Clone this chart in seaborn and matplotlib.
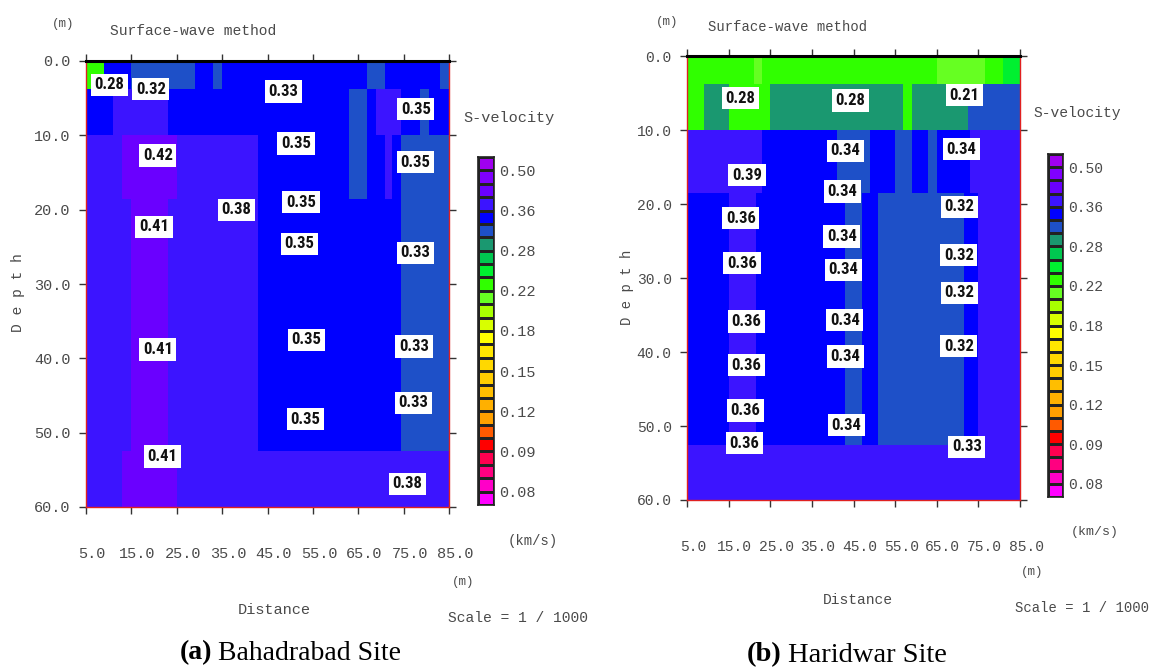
import numpy as np
import matplotlib
matplotlib.use("Agg")
import matplotlib.pyplot as plt
from matplotlib import font_manager
from matplotlib.colors import ListedColormap, BoundaryNorm
from matplotlib.transforms import ScaledTranslation
import seaborn as sns

sns.set_theme(style="white")
plt.rcParams['font.family'] = ['Liberation Mono', 'DejaVu Sans Mono']

W, H = 1151, 669

# S-velocity colour classes (km/s), bottom to top
levels = [0.070, 0.080, 0.083, 0.087, 0.090, 0.100, 0.110, 0.120, 0.130, 0.140,
          0.150, 0.160, 0.170, 0.180, 0.195, 0.210, 0.220, 0.240, 0.260, 0.280,
          0.310, 0.335, 0.360, 0.400, 0.450, 0.500, 0.550]
colors = ["#ff00ff", "#ff00c8", "#ff0080", "#ff0050", "#ff0000", "#ff5a00",
          "#ffa000", "#ffb000", "#ffbe00", "#ffcc00", "#ffd800", "#ffe600",
          "#ffff00", "#d8ff00", "#a8ff00", "#66ff22", "#30ff00", "#00f030",
          "#00c850", "#1a9870", "#1e50c8", "#0000ff", "#3c14ff", "#6a00ff",
          "#8000ff", "#a000f0"]
cbar_ticks = [0.50, 0.36, 0.28, 0.22, 0.18, 0.15, 0.12, 0.09, 0.08]

dist_ticks = [5, 15, 25, 35, 45, 55, 65, 75, 85]
depth_ticks = [0, 10, 20, 30, 40, 50, 60]

# layers: (top depth, bottom depth, [(x from, x to, velocity), ...])
bahadrabad_layers = [
    (0, 3.75, [(5, 9, 0.23), (9, 15, 0.35), (15, 29, 0.32), (29, 33, 0.35),
               (33, 35, 0.32), (35, 67, 0.35), (67, 71, 0.32), (71, 83, 0.35),
               (83, 85, 0.32)]),
    (3.75, 10, [(5, 11, 0.35), (11, 23, 0.38), (23, 63, 0.35), (63, 67, 0.32),
                (67, 69, 0.35), (69, 74.5, 0.38), (74.5, 78.5, 0.35),
                (78.5, 80.5, 0.32), (80.5, 85, 0.35)]),
    (10, 18.5, [(5, 13, 0.38), (13, 25, 0.42), (25, 43, 0.38), (43, 63, 0.35),
                (63, 67, 0.32), (67, 71, 0.35), (71, 72.5, 0.38),
                (72.5, 74.5, 0.35), (74.5, 85, 0.32)]),
    (18.5, 52.5, [(5, 15, 0.38), (15, 23, 0.42), (23, 43, 0.38), (43, 74.5, 0.35),
                  (74.5, 85, 0.32)]),
    (52.5, 60, [(5, 13, 0.38), (13, 25, 0.42), (25, 85, 0.38)]),
]
bahadrabad_labels = [
    (10.2, 3.2, "0.28"), (19.3, 3.8, "0.32"), (48.5, 4.1, "0.33"), (77.7, 6.5, "0.35"),
    (20.8, 12.7, "0.42"), (51.3, 11.1, "0.35"), (77.6, 13.6, "0.35"),
    (38.2, 20.0, "0.38"), (52.4, 19.0, "0.35"), (20.0, 22.3, "0.41"),
    (52.0, 24.6, "0.35"), (77.6, 25.8, "0.33"), (20.8, 38.8, "0.41"),
    (53.6, 37.5, "0.35"), (77.3, 38.4, "0.33"), (77.2, 46.0, "0.33"),
    (53.4, 48.2, "0.35"), (21.8, 53.2, "0.41"), (75.8, 56.9, "0.38"),
]

haridwar_layers = [
    (0, 3.75, [(5, 21, 0.23), (21, 23, 0.215), (23, 65, 0.23), (65, 76.5, 0.215),
               (76.5, 81, 0.23), (81, 85, 0.25)]),
    (3.75, 10, [(5, 9, 0.23), (9, 15, 0.29), (15, 25, 0.23), (25, 57, 0.29),
                (57, 59, 0.23), (59, 72.5, 0.29), (72.5, 85, 0.32)]),
    (10, 18.5, [(5, 23, 0.38), (23, 41, 0.35), (41, 49, 0.32), (49, 55, 0.35),
                (55, 59, 0.32), (59, 63, 0.35), (63, 65, 0.32), (65, 73, 0.35),
                (73, 85, 0.38)]),
    (18.5, 52.5, [(5, 15, 0.35), (15, 21.5, 0.38), (21.5, 43, 0.35), (43, 47, 0.32),
                  (47, 51, 0.35), (51, 71.5, 0.32), (71.5, 75, 0.35), (75, 85, 0.38)]),
    (52.5, 60, [(5, 85, 0.38)]),
]
haridwar_labels = [
    (17.8, 5.7, "0.28"), (44.3, 6.0, "0.28"), (71.7, 5.3, "0.21"),
    (43.1, 12.8, "0.34"), (70.9, 12.6, "0.34"), (19.4, 16.1, "0.39"),
    (42.3, 18.3, "0.34"), (70.4, 20.4, "0.32"), (17.9, 21.9, "0.36"),
    (42.2, 24.4, "0.34"), (70.3, 26.9, "0.32"), (18.2, 28.0, "0.36"),
    (42.6, 28.9, "0.34"), (70.4, 32.0, "0.32"), (19.2, 35.9, "0.36"),
    (42.9, 35.7, "0.34"), (70.3, 39.2, "0.32"), (19.2, 41.8, "0.36"),
    (43.1, 40.6, "0.34"), (19.0, 47.9, "0.36"), (43.3, 49.9, "0.34"),
    (18.8, 52.3, "0.36"), (72.2, 52.8, "0.33"),
]

DX, DY = 0.5, 0.25
X0, X1, DEPTH = 5.0, 85.0, 60.0
GREY = "#4a4a4a"

# pick a narrow face for the value boxes if one is installed
_installed = {f.name for f in font_manager.fontManager.ttflist}
_narrow = [n for n in ["Liberation Sans Narrow", "Roboto Condensed",
                       "Open Sans Condensed", "Noto Sans Condensed"] if n in _installed]
if _narrow:
    NARROW, NARROW_SIZE = _narrow[0], 12
else:
    NARROW, NARROW_SIZE = "DejaVu Sans", 9

cmap = ListedColormap(colors)
norm = BoundaryNorm(levels, len(colors))


def rect(x0, y0, x1, y1):
    return [x0 / W, 1 - y1 / H, (x1 - x0) / W, (y1 - y0) / H]


def ftext(fig, x, y, s, **kw):
    kw.setdefault("color", GREY)
    kw.setdefault("ha", "center")
    kw.setdefault("va", "center")
    fig.text(x / W, 1 - y / H, s, **kw)


def rasterize(layers):
    grid = np.full((int(round(DEPTH / DY)), int(round((X1 - X0) / DX))), np.nan)
    for top, bottom, blocks in layers:
        r0, r1 = int(round(top / DY)), int(round(bottom / DY))
        for xa, xb, v in blocks:
            c0, c1 = int(round((xa - X0) / DX)), int(round((xb - X0) / DX))
            grid[r0:r1, c0:c1] = v
    return grid


def draw_section(fig, box, layers, labels, fs):
    ax = fig.add_axes(box)
    sns.heatmap(rasterize(layers), ax=ax, cmap=cmap, norm=norm, cbar=False,
                xticklabels=False, yticklabels=False)
    ax.set_xticks([(d - X0) / DX for d in dist_ticks])
    ax.set_xticklabels([f"{d:.1f}" for d in dist_ticks], fontsize=fs, color=GREY)
    ax.set_yticks([d / DY for d in depth_ticks])
    ax.set_yticklabels([f"{d:.1f}" for d in depth_ticks], fontsize=fs, color=GREY)
    ax.tick_params(axis="x", bottom=True, top=True, direction="out", length=5,
                   width=1, color="#333333", pad=24)
    ax.tick_params(axis="y", left=True, right=True, direction="out", length=5,
                   width=1, color="#333333", pad=6)
    off = ScaledTranslation(6 / 100, 0, fig.dpi_scale_trans)
    for lab in ax.get_xticklabels():
        lab.set_transform(lab.get_transform() + off)
    for side in ["left", "right", "bottom", "top"]:
        ax.spines[side].set_visible(True)
        ax.spines[side].set_color("#e02020")
        ax.spines[side].set_linewidth(1)
    ax.spines["top"].set_color("black")
    ax.spines["top"].set_linewidth(2.2)
    for x, d, s in labels:
        ax.text((x - X0) / DX, d / DY, s, ha="center", va="center",
                fontsize=NARROW_SIZE, fontweight="bold", family=NARROW,
                fontstretch="condensed", color="#111111",
                bbox=dict(boxstyle="square,pad=0.22", fc="white", ec="none"))
    return ax


def draw_scale(fig, box, fs):
    cax = fig.add_axes(box)
    mids = [(levels[i] + levels[i + 1]) / 2 for i in range(len(colors))][::-1]
    sns.heatmap(np.array(mids).reshape(-1, 1), ax=cax, cmap=cmap, norm=norm,
                cbar=False, linewidths=1, linecolor="#222222",
                xticklabels=False, yticklabels=False)
    n = len(colors)
    cax.set_yticks([n - levels.index(v) for v in cbar_ticks])
    cax.set_yticklabels([f"{v:.2f}" for v in cbar_ticks], fontsize=fs, color=GREY)
    cax.yaxis.tick_right()
    cax.tick_params(axis="y", length=0, pad=4)
    for side in cax.spines.values():
        side.set_visible(True)
        side.set_color("#222222")
        side.set_linewidth(1.2)


fig = plt.figure(figsize=(W / 100, H / 100), dpi=100)

# (a) Bahadrabad
draw_section(fig, rect(86, 61, 449, 507), bahadrabad_layers, bahadrabad_labels, 11)
draw_scale(fig, rect(478, 157, 494, 505), 11)
ftext(fig, 63, 24, "(m)", fontsize=9)
ftext(fig, 110, 31, "Surface-wave method", fontsize=10.5, ha="left")
ftext(fig, 18, 293, "D e p t h", fontsize=10.5, rotation=90)
ftext(fig, 509, 118, "S-velocity", fontsize=11)
ftext(fig, 533, 541, "(km/s)", fontsize=10)
ftext(fig, 463, 582, "(m)", fontsize=9)
ftext(fig, 274, 610, "Distance", fontsize=11)
ftext(fig, 518, 618, "Scale = 1 / 1000", fontsize=10.5)
ftext(fig, 212, 653, "(a)", fontsize=20, family="Liberation Serif",
      fontweight="bold", color="black", ha="right")
ftext(fig, 218, 653, "Bahadrabad Site", fontsize=20, family="Liberation Serif",
      color="black", ha="left")

# (b) Haridwar
draw_section(fig, rect(687, 56, 1020, 500), haridwar_layers, haridwar_labels, 10.5)
draw_scale(fig, rect(1048, 154, 1063, 497), 10.5)
ftext(fig, 667, 22, "(m)", fontsize=9)
ftext(fig, 708, 27, "Surface-wave method", fontsize=10, ha="left")
ftext(fig, 627, 287, "D e p t h", fontsize=10, rotation=90)
ftext(fig, 1077, 113, "S-velocity", fontsize=10.5)
ftext(fig, 1095, 532, "(km/s)", fontsize=9.5)
ftext(fig, 1032, 572, "(m)", fontsize=9)
ftext(fig, 858, 600, "Distance", fontsize=10.5)
ftext(fig, 1082, 608, "Scale = 1 / 1000", fontsize=10)
ftext(fig, 782, 655, "(b)", fontsize=20.5, family="Liberation Serif",
      fontweight="bold", color="black", ha="right")
ftext(fig, 788, 655, "Haridwar Site", fontsize=20.5, family="Liberation Serif",
      color="black", ha="left")

fig.savefig("out.png", dpi=100)
